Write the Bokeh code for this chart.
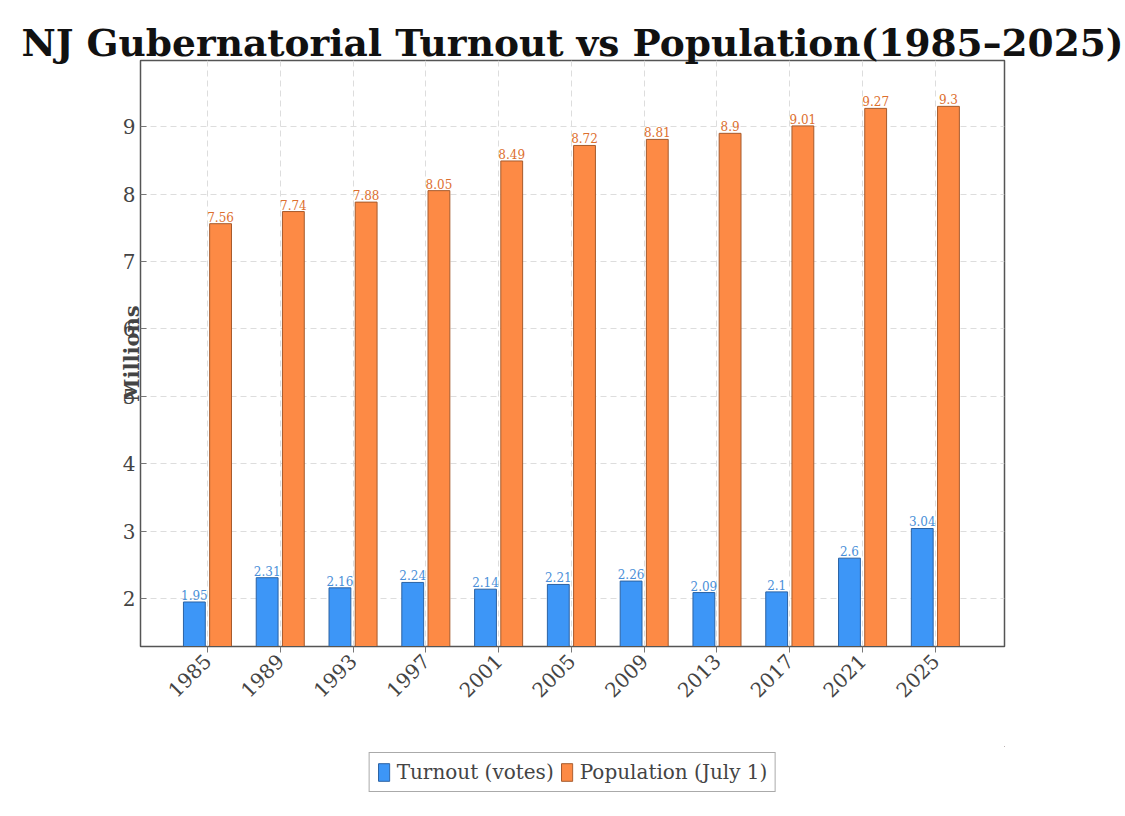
from bokeh.plotting import figure
from bokeh.layouts import column
from bokeh.models import FixedTicker, Legend, LegendItem, Range1d
from bokeh.core.properties import value
from bokeh.embed import file_html
from bokeh.resources import INLINE
from math import pi

years = [1985, 1989, 1993, 1997, 2001, 2005, 2009, 2013, 2017, 2021, 2025]
turnout = [1.95, 2.31, 2.16, 2.24, 2.14, 2.21, 2.26, 2.09, 2.1, 2.6, 3.04]
population = [7.56, 7.74, 7.88, 8.05, 8.49, 8.72, 8.81, 8.9, 9.01, 9.27, 9.3]
y_ticks = [2, 3, 4, 5, 6, 7, 8, 9]
series_names = ["Turnout (votes)", "Population (July 1)"]

SERIF = "DejaVu Serif"
BLUE, BLUE_EDGE, BLUE_TEXT = "#3d96f7", "#2b62a3", "#4a8fd8"
ORANGE, ORANGE_EDGE, ORANGE_TEXT = "#fd8a45", "#a65a2c", "#dd6f2e"

p = figure(
    frame_width=864, frame_height=586,
    x_range=Range1d(years[0] - 3.68, years[-1] + 3.8),
    y_range=Range1d(1.29, 9.98),
    output_backend="svg", toolbar_location=None,
    min_border_left=140, min_border_right=121, min_border_top=60, min_border_bottom=100,
)

p.title.text = "NJ Gubernatorial Turnout vs Population(1985\u20132025)"
p.title.text_font = SERIF
p.title.text_font_size = "37.5px"
p.title.text_font_style = "bold"
p.title.align = "center"
p.title.text_color = "#111111"
p.title.standoff = -9

off = 0.72
w = 1.2
bx = [y - off for y in years]
ox = [y + off for y in years]
p.vbar(x=bx, top=turnout, bottom=0, width=w, fill_color=BLUE, line_color=BLUE_EDGE, line_width=1)
p.vbar(x=ox, top=population, bottom=0, width=w, fill_color=ORANGE, line_color=ORANGE_EDGE, line_width=1)

p.text(x=bx, y=[v + 0.03 for v in turnout], text=[f"{v:g}" for v in turnout],
       text_align="center", text_baseline="bottom", text_font=value(SERIF),
       text_font_size="12px", text_color=BLUE_TEXT)
p.text(x=ox, y=[v + 0.03 for v in population], text=[f"{v:g}" for v in population],
       text_align="center", text_baseline="bottom", text_font=value(SERIF),
       text_font_size="12px", text_color=ORANGE_TEXT)

p.xaxis.ticker = FixedTicker(ticks=years)
p.yaxis.ticker = FixedTicker(ticks=y_ticks)
p.xaxis.major_label_orientation = pi / 4
for ax in (p.xaxis, p.yaxis):
    ax.major_label_text_font = SERIF
    ax.axis_line_color = "#555555"
    ax.major_tick_line_color = "#777777"
    ax.minor_tick_line_color = None
p.xaxis.major_label_text_font_size = "20px"
p.yaxis.major_label_text_font_size = "20px"
p.xaxis.major_tick_out = 6
p.xaxis.major_tick_in = 0
p.yaxis.major_tick_out = 0
p.yaxis.major_tick_in = 6

p.yaxis.axis_label = "Millions"
p.yaxis.axis_label_text_font = SERIF
p.yaxis.axis_label_text_font_size = "21px"
p.yaxis.axis_label_text_font_style = "bold"
p.yaxis.axis_label_standoff = -24

p.xgrid.ticker = FixedTicker(ticks=years)
p.grid.grid_line_color = "#dddddd"
p.grid.grid_line_dash = "6 4"
p.grid.grid_line_width = 1

p.outline_line_color = "#555555"
p.outline_line_width = 1.5
p.outline_line_alpha = 1

# legend strip under the chart; its bars sit outside the visible range
lg = figure(
    width=1125, height=52, output_backend="svg", toolbar_location=None,
    x_range=Range1d(0, 1), y_range=Range1d(0, 1),
    min_border_left=20, min_border_right=0, min_border_top=0, min_border_bottom=0,
)
lg.axis.visible = False
lg.grid.visible = False
lg.outline_line_color = None
rb = lg.vbar(x=[5], top=[5], bottom=[4], width=0.1, fill_color=BLUE, line_color=BLUE_EDGE)
ro = lg.vbar(x=[5], top=[5], bottom=[4], width=0.1, fill_color=ORANGE, line_color=ORANGE_EDGE)
legend = Legend(
    items=[LegendItem(label=series_names[0], renderers=[rb]),
           LegendItem(label=series_names[1], renderers=[ro])],
    orientation="horizontal",
    location="center",
    label_text_font=SERIF,
    label_text_font_size="20px",
    glyph_width=14, glyph_height=22,
    label_standoff=6, spacing=6,
    padding=7, margin=0,
    border_line_color="#555555",
    border_line_width=1.5,
)
lg.add_layout(legend, "center")

layout = column(p, lg, spacing=0)
open("out.html", "w").write(file_html(layout, INLINE))
